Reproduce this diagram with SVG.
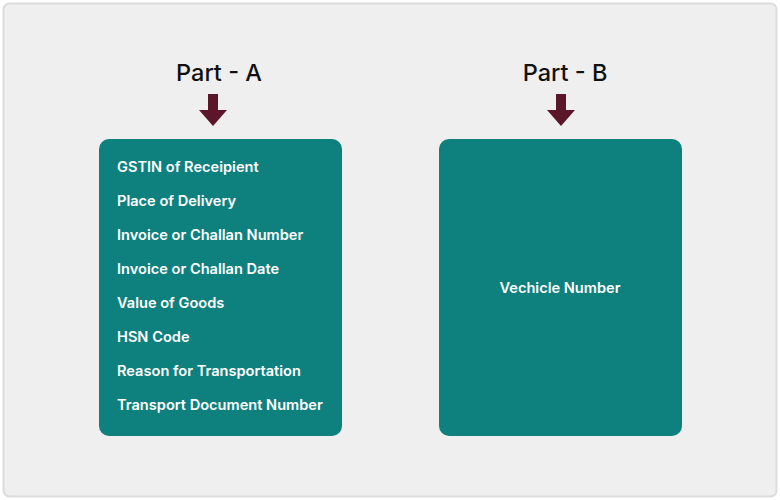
<svg xmlns="http://www.w3.org/2000/svg" width="780" height="500" viewBox="0 0 780 500">
<style>
.title{font-family:Inter,"Open Sans","Liberation Sans",sans-serif;font-size:23.5px;font-weight:500;fill:#111;text-anchor:middle}
.item{font-family:Inter,"Open Sans","Liberation Sans",sans-serif;font-size:14.6px;font-weight:600;fill:#fff}
.box{fill:#0e807e}
.arrow{fill:#5c1629}
</style>
<defs>
<path id="arr" d="M-5,0 H5 V16 H14 L0,32 L-14,16 H-5 Z"/>
</defs>
<rect x="0" y="0" width="780" height="500" fill="#ffffff"/>
<rect x="3.5" y="3.5" width="773" height="493" rx="6" fill="#efefef" stroke="#dcdcdc" stroke-width="2"/>
<g id="connectors">
<use href="#arr" class="arrow" x="213" y="94"/>
<use href="#arr" class="arrow" x="561" y="94"/>
</g>
<g id="partA-title"><text class="title" x="219" y="81">Part - A</text></g>
<g id="partB-title"><text class="title" x="565" y="81">Part - B</text></g>
<g id="partA">
<rect class="box" x="99" y="139" width="243" height="297" rx="10"/>
<text class="item" x="117" y="172">GSTIN of Receipient</text>
<text class="item" x="117" y="206">Place of Delivery</text>
<text class="item" x="117" y="240">Invoice or Challan Number</text>
<text class="item" x="117" y="274">Invoice or Challan Date</text>
<text class="item" x="117" y="308">Value of Goods</text>
<text class="item" x="117" y="342">HSN Code</text>
<text class="item" x="117" y="376">Reason for Transportation</text>
<text class="item" x="117" y="410">Transport Document Number</text>
</g>
<g id="partB">
<rect class="box" x="439" y="139" width="243" height="297" rx="10"/>
<text class="item" x="560" y="293" text-anchor="middle">Vechicle Number</text>
</g>
</svg>
